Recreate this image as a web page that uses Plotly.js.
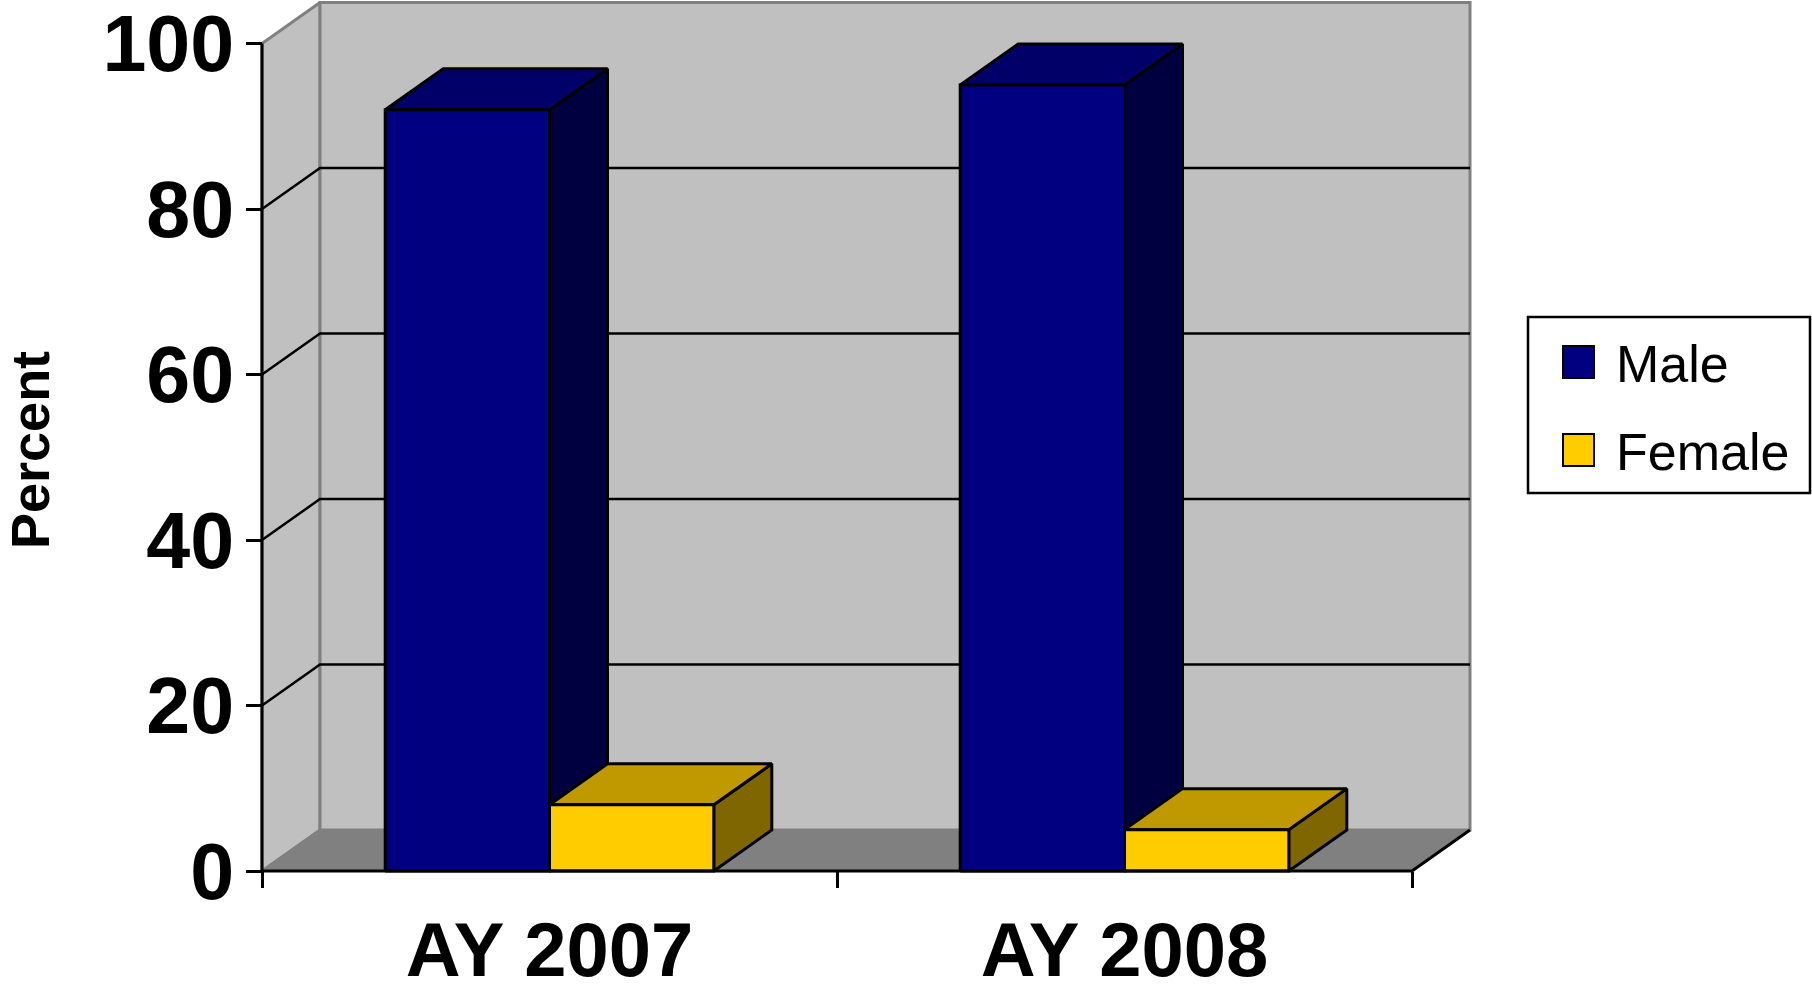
<!DOCTYPE html>
<html>
<head>
<meta charset="utf-8">
<script src="https://cdn.plot.ly/plotly-3.0.1.min.js"></script>
<style>html,body{margin:0;padding:0;background:#fff;}#chart{width:1812px;height:984px;}</style>
</head>
<body>
<div id="chart"></div>
<script>
// ---- data ----
const categories = ['AY 2007', 'AY 2008'];
const seriesNames = ['Male', 'Female'];
const maleValues = [92, 95];
const femaleValues = [8, 5];
const yTickVals = [0, 20, 40, 60, 80, 100];
const yTickText = ['0', '20', '40', '60', '80', '100'];
const gridLevels = [20, 40, 60, 80];
const yAxisTitle = 'Percent';

// ---- styles / geometry ----
const W = 1812, H = 984;
const X0 = 262, Y0 = 871;          // front-left-bottom corner (px)
const UX = 575;                    // px per category
const DXP = 58, DYP = 41;          // depth offset (px)
const PADX = 6, PADB = 6, PADT = 2.5;
const T = 0;
const UY = (Y0 - DYP - PADT - T) / 100;
const DX = DXP / UX, DY = DYP / UY;
const nCat = categories.length;
const gapWidth = 1.5;
const BW = 1 / (seriesNames.length + gapWidth);

const xr = [-PADX / UX, nCat + DX + PADX / UX];
const yr = [-PADB / UY, 100 + DY + PADT / UY];
const L = X0 - PADX;
const R = W - (X0 + nCat * UX + DXP + PADX);
const B = H - (Y0 + PADB);
const PW = W - L - R, PH = H - T - B;

const colors = {
  Male:   {front: '#000080', top: '#000068', side: '#000040'},
  Female: {front: '#FFCC00', top: '#C09900', side: '#806600'}
};

const traces = [];
function poly(pts, fill, lineColor, lineWidth) {
  const xs = pts.map(p => p[0]).concat([pts[0][0]]);
  const ys = pts.map(p => p[1]).concat([pts[0][1]]);
  traces.push({type: 'scatter', mode: 'lines', x: xs, y: ys, fill: 'toself',
    fillcolor: fill, line: {color: lineColor, width: lineWidth},
    hoverinfo: 'skip', showlegend: false});
}
function line(pts, color, width) {
  traces.push({type: 'scatter', mode: 'lines', x: pts.map(p => p[0]), y: pts.map(p => p[1]),
    line: {color: color, width: width}, hoverinfo: 'skip', showlegend: false});
}

// walls and floor
poly([[0, 0], [0, 100], [DX, 100 + DY], [DX, DY]], '#C0C0C0', '#808080', 3);
poly([[DX, DY], [DX, 100 + DY], [nCat + DX, 100 + DY], [nCat + DX, DY]], '#C0C0C0', '#808080', 3);
poly([[0, 0], [nCat, 0], [nCat + DX, DY], [DX, DY]], '#808080', '#808080', 2);

// gridlines
gridLevels.forEach(g => line([[0, g], [DX, g + DY], [nCat + DX, g + DY]], '#000000', 2.5));

// bars
const seriesValues = [maleValues, femaleValues];
categories.forEach((c, i) => {
  seriesNames.forEach((s, k) => {
    const v = seriesValues[k][i];
    const x0 = i + 0.5 - BW * seriesNames.length / 2 + k * BW;
    const x1 = x0 + BW;
    const col = colors[s];
    poly([[x1, 0], [x1 + DX, DY], [x1 + DX, v + DY], [x1, v]], col.side, '#000000', 3);
    poly([[x0, v], [x1, v], [x1 + DX, v + DY], [x0 + DX, v + DY]], col.top, '#000000', 3);
    poly([[x0, 0], [x1, 0], [x1, v], [x0, v]], col.front, '#000000', 3);
  });
});

// axis lines
line([[0, 100], [0, 0], [nCat, 0], [nCat + DX, DY]], '#000000', 3);

// ---- legend (custom) ----
const px2x = px => (px - L) / PW;
const py2y = py => 1 - (py - T) / PH;
const shapes = [
  {type: 'rect', xref: 'paper', yref: 'paper', x0: px2x(1528), x1: px2x(1810), y0: py2y(317), y1: py2y(493),
   line: {color: '#000', width: 2.5}, fillcolor: '#fff', layer: 'above'}
];
const legendRows = [362, 450];
const annotations = [];
seriesNames.forEach((s, k) => {
  const cy = legendRows[k];
  shapes.push({type: 'rect', xref: 'paper', yref: 'paper', x0: px2x(1563), x1: px2x(1594),
    y0: py2y(cy - 16), y1: py2y(cy + 16), line: {color: '#000', width: 2}, fillcolor: colors[s].front, layer: 'above'});
  annotations.push({xref: 'paper', yref: 'paper', x: px2x(1614), y: py2y(cy + 2), xanchor: 'left', yanchor: 'middle',
    text: s, showarrow: false, font: {family: 'Liberation Sans, Arial, sans-serif', size: 52, color: '#000'}});
});
annotations.push({xref: 'paper', yref: 'paper', x: px2x(30), y: py2y(450), xanchor: 'center', yanchor: 'middle',
  text: yAxisTitle, textangle: -90, showarrow: false,
  font: {family: 'Liberation Sans, Arial, sans-serif', size: 54, color: '#000', weight: 'bold'}});

const xPos = (0 - yr[0]) / (yr[1] - yr[0]);
const yPos = (0 - xr[0]) / (xr[1] - xr[0]);
const yFont = {family: 'Liberation Sans, Arial, sans-serif', size: 79, color: '#000', weight: 'bold'};
const xFont = {family: 'Liberation Sans, Arial, sans-serif', size: 76, color: '#000', weight: 'bold'};

const layout = {
  width: W, height: H,
  margin: {l: L, r: R, t: T, b: B, pad: 0},
  paper_bgcolor: '#fff', plot_bgcolor: 'rgba(0,0,0,0)',
  showlegend: false,
  xaxis: {range: xr, anchor: 'free', position: xPos, showgrid: false, zeroline: false, showline: false,
    tickmode: 'array', tickvals: categories.map((c, i) => i + 0.5), ticktext: categories,
    ticks: '', tickfont: xFont, ticklabelstandoff: 28, ticklabeloverflow: 'allow', fixedrange: true},
  xaxis2: {range: xr, overlaying: 'x', anchor: 'free', position: xPos, side: 'bottom', showgrid: false, zeroline: false,
    showline: false, tickmode: 'array', tickvals: categories.map((c, i) => i).concat([nCat]),
    ticks: 'outside', ticklen: 16, tickwidth: 3, tickcolor: '#000', showticklabels: false, fixedrange: true},
  yaxis: {range: yr, anchor: 'free', position: yPos, showgrid: false, zeroline: false, showline: false,
    tickmode: 'array', tickvals: yTickVals, ticktext: yTickText,
    ticks: 'outside', ticklen: 16, tickwidth: 3, tickcolor: '#000', tickfont: yFont,
    ticklabelstandoff: -4, ticklabeloverflow: 'allow', fixedrange: true},
  shapes: shapes,
  annotations: annotations
};
// dummy trace to activate xaxis2
traces.push({type: 'scatter', mode: 'lines', x: [0], y: [0], xaxis: 'x2', yaxis: 'y', hoverinfo: 'skip', showlegend: false, line: {width: 0}});

Plotly.newPlot('chart', traces, layout, {displayModeBar: false, staticPlot: true});
</script>
</body>
</html>
